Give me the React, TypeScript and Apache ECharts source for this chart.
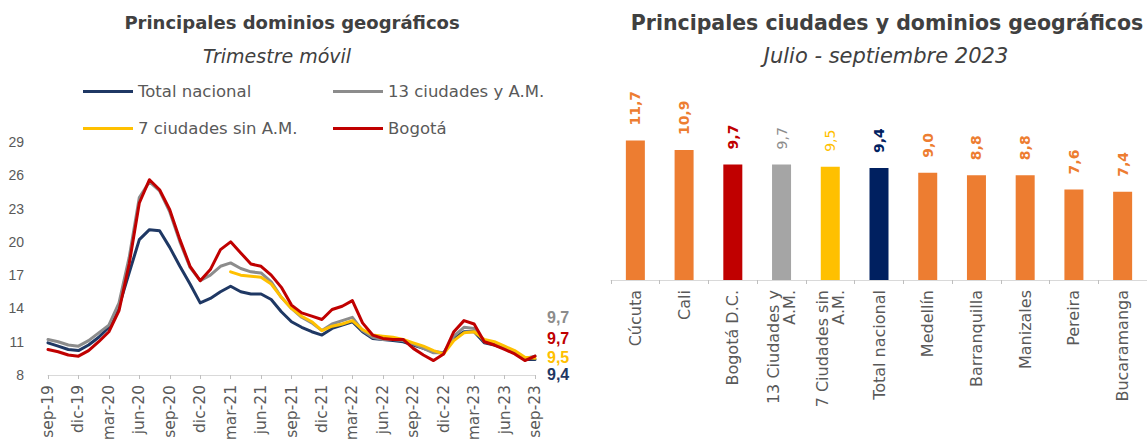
import React, { useEffect, useRef } from 'react';
import * as echarts from 'echarts';

const months = [
  'sep-19', 'oct-19', 'nov-19', 'dic-19',
  'ene-20', 'feb-20', 'mar-20', 'abr-20', 'may-20', 'jun-20', 'jul-20', 'ago-20', 'sep-20', 'oct-20', 'nov-20', 'dic-20',
  'ene-21', 'feb-21', 'mar-21', 'abr-21', 'may-21', 'jun-21', 'jul-21', 'ago-21', 'sep-21', 'oct-21', 'nov-21', 'dic-21',
  'ene-22', 'feb-22', 'mar-22', 'abr-22', 'may-22', 'jun-22', 'jul-22', 'ago-22', 'sep-22', 'oct-22', 'nov-22', 'dic-22',
  'ene-23', 'feb-23', 'mar-23', 'abr-23', 'may-23', 'jun-23', 'jul-23', 'ago-23', 'sep-23',
];

const totalNacional = [
  10.9, 10.6, 10.3, 10.2, 10.7, 11.4, 12.3, 14.2, 17.2, 20.2, 21.1, 21.0, 19.5, 17.8, 16.2, 14.5,
  14.9, 15.5, 16.0, 15.5, 15.3, 15.3, 14.8, 13.7, 12.8, 12.3, 11.9, 11.6,
  12.2, 12.5, 12.8, 11.9, 11.3, 11.2, 11.1, 11.0, 10.7, 10.4, 10.1, 10.0,
  11.3, 11.9, 11.9, 10.9, 10.7, 10.4, 10.0, 9.4, 9.4,
];

const treceCiudades = [
  11.2, 11.0, 10.7, 10.6, 11.1, 11.8, 12.5, 14.5, 18.6, 24.0, 25.4, 24.6, 22.7, 20.0, 17.7, 16.5,
  17.0, 17.8, 18.1, 17.6, 17.3, 17.2, 16.4, 15.0, 14.0, 13.2, 12.7, 12.0,
  12.6, 12.9, 13.2, 12.0, 11.4, 11.2, 11.2, 11.1, 10.8, 10.4, 10.0, 10.0,
  11.5, 12.3, 12.2, 11.0, 10.8, 10.5, 10.1, 9.5, 9.7,
];

const sieteCiudades = [
  null, null, null, null, null, null, null, null, null, null, null, null, null, null, null, null,
  null, null, 17.3, 17.0, 16.9, 16.8, 16.2, 15.0, 14.0, 13.3, 12.8, 12.0,
  12.4, 12.6, 12.9, 12.1, 11.6, 11.5, 11.4, 11.2, 10.9, 10.6, 10.2, 9.9,
  11.1, 11.8, 11.9, 11.2, 11.0, 10.6, 10.2, 9.6, 9.5,
];

const bogota = [
  10.3, 10.1, 9.8, 9.7, 10.2, 11.0, 11.9, 13.8, 18.0, 23.5, 25.6, 24.7, 22.9, 20.2, 17.8, 16.5,
  17.5, 19.3, 20.0, 19.0, 18.0, 17.8, 17.0, 15.9, 14.3, 13.6, 13.3, 13.0,
  13.9, 14.2, 14.7, 12.7, 11.6, 11.3, 11.2, 11.2, 10.4, 9.8, 9.3, 9.9,
  11.9, 12.9, 12.6, 11.0, 10.7, 10.3, 9.9, 9.3, 9.7,
];

const yTicks = [8, 11, 14, 17, 20, 23, 26, 29];

const barCities = [
  'Cúcuta', 'Cali', 'Bogotá D.C.', '13 Ciudades y\nA.M.', '7 Ciudades sin\nA.M.',
  'Total nacional', 'Medellín', 'Barranquilla', 'Manizales', 'Pereira', 'Bucaramanga',
];
const barValues = [11.7, 10.9, 9.7, 9.7, 9.5, 9.4, 9.0, 8.8, 8.8, 7.6, 7.4];

const ORANGE = '#ED7D31';
const RED = '#C00000';
const GRAY = '#A5A5A5';
const YELLOW = '#FFC000';
const NAVY = '#002060';

const barColors = [ORANGE, ORANGE, RED, GRAY, YELLOW, NAVY, ORANGE, ORANGE, ORANGE, ORANGE, ORANGE];
const barLabelColors = [ORANGE, ORANGE, RED, '#8C8C8C', YELLOW, NAVY, ORANGE, ORANGE, ORANGE, ORANGE, ORANGE];
const barLabelBold = [true, true, true, false, false, true, true, true, true, true, true];

const fmt = (v: number) => Number(v).toFixed(1).replace('.', ',');

const SANS = '"Liberation Sans", Arial, sans-serif';
const DEJAVU = '"DejaVu Sans", sans-serif';
const TXT = '#595959';
const TITLE = '#404040';

export default function App() {
  const ref = useRef<HTMLDivElement>(null);

  useEffect(() => {
    const chart = echarts.init(ref.current as HTMLDivElement, null, { renderer: 'svg' });

    const lineSeries = (name: string, data: (number | null)[], color: string, labelColor: string, dy: number, z: number) => ({
      type: 'line',
      name,
      data,
      xAxisIndex: 0,
      yAxisIndex: 0,
      symbol: 'none',
      z,
      connectNulls: false,
      lineStyle: { color, width: 3, cap: 'round', join: 'round' },
      itemStyle: { color },
      endLabel: {
        show: true,
        formatter: (p: any) => fmt(p.value),
        color: labelColor,
        fontWeight: 'bold',
        fontSize: 16,
        fontFamily: SANS,
        distance: 8,
        offset: [4, dy],
      },
    });

    const legendItem = (name: string, left: number, top: number) => ({
      data: [name],
      left,
      top,
      icon: 'rect',
      itemWidth: 50,
      itemHeight: 3,
      itemGap: 0,
      selectedMode: false,
      textStyle: { color: TXT, fontSize: 16.5, fontFamily: DEJAVU },
    });

    chart.setOption({
      animation: false,
      backgroundColor: '#ffffff',
      title: [
        { text: 'Principales dominios geográficos', left: 287, top: 8, textAlign: 'center',
          textStyle: { fontSize: 18, fontWeight: 'bold', color: TITLE, fontFamily: DEJAVU } },
        { text: 'Trimestre móvil', left: 272, top: 41, textAlign: 'center',
          textStyle: { fontSize: 19, fontWeight: 'normal', fontStyle: 'italic', color: TITLE, fontFamily: DEJAVU } },
        { text: 'Principales ciudades y dominios geográficos', left: 882, top: 7, textAlign: 'center',
          textStyle: { fontSize: 20.5, fontWeight: 'bold', color: TITLE, fontFamily: DEJAVU } },
        { text: 'Julio - septiembre 2023', left: 881, top: 40, textAlign: 'center',
          textStyle: { fontSize: 21, fontWeight: 'normal', fontStyle: 'italic', color: TITLE, fontFamily: DEJAVU } },
      ],
      legend: [
        legendItem('Total nacional', 78, 78),
        legendItem('13 ciudades y A.M.', 328, 78),
        legendItem('7 ciudades sin A.M.', 78, 115),
        legendItem('Bogotá', 328, 115),
      ],
      grid: [
        { left: 48, top: 142, width: 487, height: 233 },
        { left: 611, top: 137, width: 548, height: 143 },
      ],
      xAxis: [
        {
          type: 'category',
          gridIndex: 0,
          data: months,
          boundaryGap: false,
          axisLine: { lineStyle: { color: '#D9D9D9', width: 1 } },
          axisTick: { show: true, interval: 2, length: 4, lineStyle: { color: '#BFBFBF' } },
          axisLabel: { interval: 2, rotate: 90, color: TXT, fontSize: 15.5, fontFamily: DEJAVU, margin: 10 },
          splitLine: { show: false },
        },
        {
          type: 'category',
          gridIndex: 1,
          data: barCities,
          axisLine: { lineStyle: { color: '#D9D9D9', width: 1 } },
          axisTick: { show: true, length: 4, lineStyle: { color: '#BFBFBF' } },
          axisLabel: { interval: 0, rotate: 90, color: TXT, fontSize: 16, fontFamily: DEJAVU, margin: 10, lineHeight: 16, align: 'right' },
        },
      ],
      yAxis: [
        {
          type: 'value',
          gridIndex: 0,
          min: 8,
          max: 29,
          axisLine: { show: false },
          axisTick: { show: false },
          splitLine: { show: false },
          axisLabel: { customValues: yTicks, color: TXT, fontSize: 14, fontFamily: SANS, margin: 24 },
        },
        {
          type: 'value',
          gridIndex: 1,
          min: 0,
          max: 12,
          show: false,
          splitLine: { show: false },
        },
      ],
      series: [
        lineSeries('Total nacional', totalNacional, '#1F3864', '#1F3864', 15, 2),
        lineSeries('13 ciudades y A.M.', treceCiudades, '#8C8C8C', '#8C8C8C', -39, 3),
        lineSeries('7 ciudades sin A.M.', sieteCiudades, YELLOW, YELLOW, -1, 4),
        lineSeries('Bogotá', bogota, RED, RED, -18, 5),
        {
          type: 'bar',
          name: 'Julio - septiembre 2023',
          xAxisIndex: 1,
          yAxisIndex: 1,
          barWidth: 19,
          data: barValues.map((v, i) => ({
            value: v,
            itemStyle: { color: barColors[i] },
            label: { color: barLabelColors[i], fontWeight: barLabelBold[i] ? 'bold' : 'normal' },
          })),
          label: {
            show: true,
            position: 'top',
            rotate: 90,
            align: 'left',
            verticalAlign: 'middle',
            distance: 15,
            fontSize: 14,
            fontFamily: DEJAVU,
            formatter: (p: any) => fmt(p.value),
          },
        },
      ],
    });

    return () => chart.dispose();
  }, []);

  return (
    <div
      ref={ref}
      style={{ position: 'absolute', left: 0, top: 0, width: 1147, height: 444, background: '#fff' }}
    />
  );
}
